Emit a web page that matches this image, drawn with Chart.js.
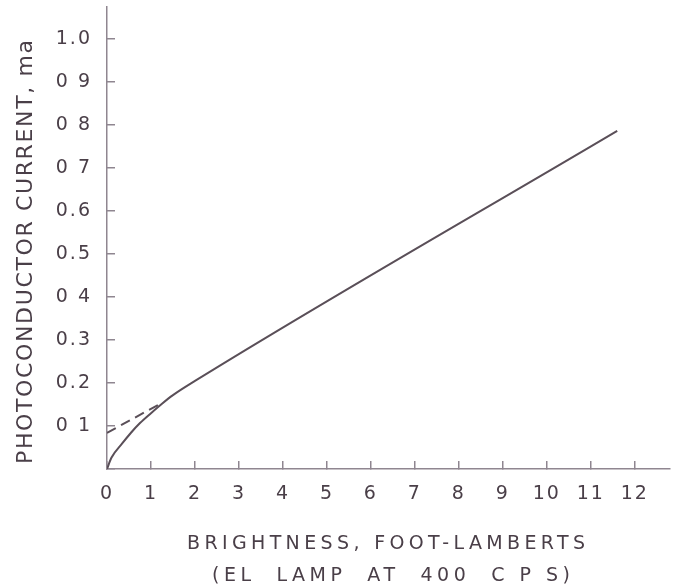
<!DOCTYPE html>
<html>
<head>
<meta charset="utf-8">
<script src="https://cdn.jsdelivr.net/npm/chart.js@4/dist/chart.umd.min.js"></script>
<style>
  html, body { margin: 0; padding: 0; background: #fff; }
  #wrap { width: 678px; height: 588px; }
</style>
</head>
<body>
<div id="wrap"><canvas id="chartPhoto" width="678" height="588"></canvas></div>
<script>
// values
var curveX = [0, 0.1, 0.35, 0.55, 0.75, 1.0, 1.25, 1.5, 2.0, 11.6];
var curveY = [0, 0.026, 0.06, 0.085, 0.107, 0.13, 0.152, 0.172, 0.205, 0.787];
var dashX = [0, 1.25];
var dashY = [0.084, 0.154];

var xTicks = [0, 1, 2, 3, 4, 5, 6, 7, 8, 9, 10, 11, 12];
var yTicks = [0, 0.1, 0.2, 0.3, 0.4, 0.5, 0.6, 0.7, 0.8, 0.9, 1.0];
var yTickLabels = ['', '0 1', '0.2', '0.3', '0 4', '0.5', '0.6', '0 7', '0 8', '0 9', '1.0'];

var xTitle = ['BRIGHTNESS, FOOT-LAMBERTS', '(EL  LAMP  AT  400  C P S)'];
var yTitle = 'PHOTOCONDUCTOR CURRENT, ma';

var inkColor = '#4a3f48';
var lineColor = '#5a4f58';
var axisColor = '#8f8690';

function toPoints(xs, ys) {
    var pts = [];
    for (var i = 0; i < xs.length; i++) pts.push({x: xs[i], y: ys[i]});
    return pts;
}

// draw a string spread to a given width
function spreadText(ctx, text, cx, cy, width) {
    ctx.letterSpacing = '0px';
    var w = ctx.measureText(text).width;
    var sp = (width - w) / (text.length - 1);
    ctx.letterSpacing = sp + 'px';
    ctx.textAlign = 'left';
    ctx.fillText(text, cx - width / 2, cy);
}

var letterPlugin = {
    id: 'letterSpacing',
    beforeDraw: function(chart) {
        chart.ctx.letterSpacing = '2px';
    }
};

var titlePlugin = {
    id: 'axisTitles',
    afterDraw: function(chart) {
        var ctx = chart.ctx;
        ctx.save();
        ctx.fillStyle = inkColor;
        ctx.textBaseline = 'alphabetic';
        ctx.font = '19px "DejaVu Sans"';
        spreadText(ctx, xTitle[0], 386, 549, 398);
        spreadText(ctx, xTitle[1], 391, 581, 358);
        ctx.translate(32, 252);
        ctx.rotate(-Math.PI / 2);
        ctx.font = '22px "DejaVu Sans"';
        spreadText(ctx, yTitle, 0, 0, 424);
        ctx.restore();
    }
};

function noPad(scale) {
    scale.paddingTop = 0;
    scale.paddingBottom = 0;
    scale.paddingLeft = 0;
    scale.paddingRight = 0;
}

var ctx = document.getElementById('chartPhoto');
var myChartPhoto = new Chart(ctx, {
    type: 'scatter',
    data: {
        datasets: [{
            label: 'measured',
            data: toPoints(curveX, curveY),
            showLine: true,
            borderColor: lineColor,
            borderWidth: 2,
            pointRadius: 0,
            cubicInterpolationMode: 'monotone',
            fill: false
        }, {
            label: 'extrapolated',
            data: toPoints(dashX, dashY),
            showLine: true,
            borderColor: lineColor,
            borderWidth: 2,
            borderDash: [10, 6],
            pointRadius: 0,
            fill: false
        }]
    },
    options: {
        responsive: false,
        animation: false,
        events: [],
        layout: { padding: { top: 7, right: 8, left: 0, bottom: 0 } },
        plugins: {
            legend: { display: false },
            tooltip: { enabled: false },
            title: { display: false }
        },
        scales: {
            x: {
                type: 'linear',
                min: 0,
                max: 12.8,
                afterBuildTicks: function(scale) {
                    scale.ticks = xTicks.map(function(v) { return {value: v}; });
                },
                afterFit: function(scale) { scale.height = 119; noPad(scale); },
                grid: { drawOnChartArea: false, drawTicks: true, tickLength: -8, color: axisColor, lineWidth: 1.5 },
                border: { display: true, color: axisColor, width: 1.5 },
                ticks: {
                    color: inkColor,
                    font: { family: '"DejaVu Sans"', size: 19 },
                    padding: 22,
                    maxRotation: 0,
                    autoSkip: false,
                    callback: function(v) { return String(v); }
                }
            },
            y: {
                type: 'linear',
                min: 0,
                max: 1.075,
                afterBuildTicks: function(scale) {
                    scale.ticks = yTicks.map(function(v) { return {value: v}; });
                },
                afterFit: function(scale) { scale.width = 107; noPad(scale); },
                grid: { drawOnChartArea: false, drawTicks: true, tickLength: -8, color: axisColor, lineWidth: 1.5 },
                border: { display: true, color: axisColor, width: 1.5 },
                ticks: {
                    color: inkColor,
                    font: { family: '"DejaVu Sans"', size: 19 },
                    padding: 23,
                    autoSkip: false,
                    callback: function(v, i) { return yTickLabels[i]; }
                }
            }
        }
    },
    plugins: [letterPlugin, titlePlugin]
});
</script>
</body>
</html>
